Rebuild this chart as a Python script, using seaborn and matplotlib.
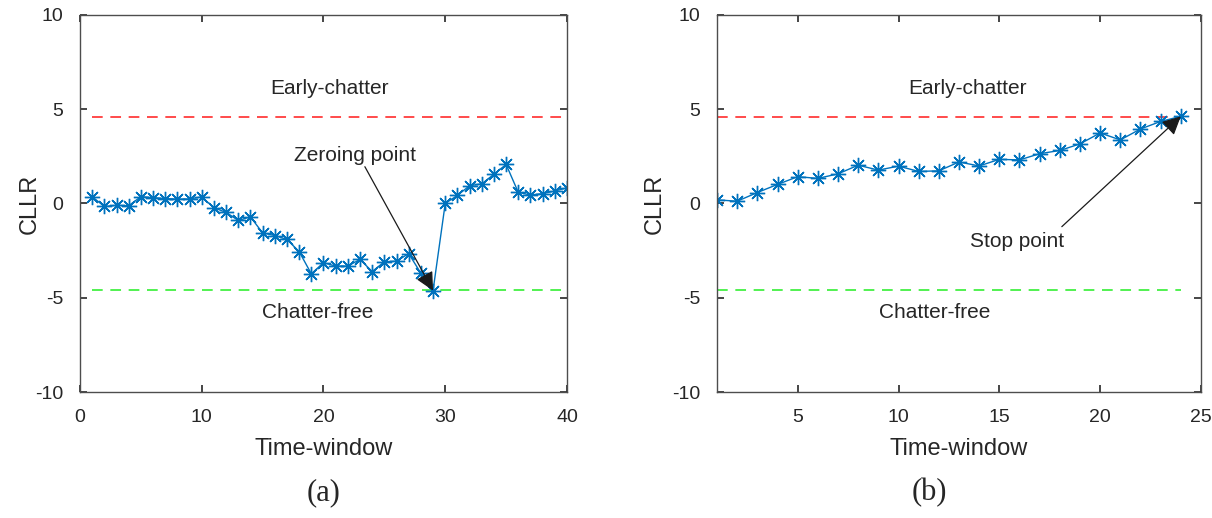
import numpy as np
import pandas as pd
import matplotlib
matplotlib.use("Agg")
import matplotlib.pyplot as plt
import seaborn as sns

# ---- data ----
windows_a = list(range(1, 41))
cllr_a = [0.36, -0.16, -0.10, -0.12, 0.36, 0.31, 0.26, 0.23, 0.24, 0.35,
          -0.23, -0.47, -0.90, -0.71, -1.56, -1.70, -1.91, -2.55, -3.73, -3.14,
          -3.32, -3.32, -2.97, -3.61, -3.09, -3.06, -2.66, -3.70, -4.62, 0.00,
          0.43, 0.94, 1.04, 1.55, 2.07, 0.59, 0.45, 0.52, 0.66, 0.83]

windows_b = list(range(1, 25))
cllr_b = [0.19, 0.12, 0.58, 1.01, 1.42, 1.33, 1.57, 2.03, 1.77, 1.98,
          1.70, 1.73, 2.20, 1.99, 2.34, 2.31, 2.64, 2.81, 3.16, 3.74,
          3.37, 3.95, 4.35, 4.62]

upper_threshold = 4.6
lower_threshold = -4.6

ticks_y = [-10, -5, 0, 5, 10]
ticks_x_a = [0, 10, 20, 30, 40]
ticks_x_b = [5, 10, 15, 20, 25]

sns.set_theme(style="ticks")
plt.rcParams['font.family'] = ['Liberation Sans', 'DejaVu Sans']

fig = plt.figure(figsize=(12.12, 5.18), dpi=100)
ax_a = fig.add_axes([0.0660, 0.2432, 0.4018, 0.7280])
ax_b = fig.add_axes([0.5916, 0.2432, 0.3993, 0.7280])

line_color = '#0072BD'
axis_gray = '#262626'
asterisk = (8, 2, 0)

def style_axes(ax, xlim, xticks, ylabel_x):
    ax.set_xlim(*xlim)
    ax.set_ylim(-10, 10)
    ax.set_xticks(xticks)
    ax.set_yticks(ticks_y)
    ax.set_xticklabels([str(t) for t in xticks])
    ax.set_yticklabels([str(t) for t in ticks_y])
    ax.tick_params(direction='in', length=5, width=1.2, top=True, right=True,
                   labelsize=14, colors=axis_gray, pad=12)
    for s in ax.spines.values():
        s.set_visible(True)
        s.set_color('#4d4d4d')
        s.set_linewidth(1.0)
    ax.set_xlabel('Time-window', fontsize=17, color=axis_gray, labelpad=9)
    ax.set_ylabel('CLLR', fontsize=17, color=axis_gray)
    ax.yaxis.set_label_coords(ylabel_x, 0.5)
    ax.grid(False)

dash = (7, 5)
red = '#FF1A1A'
green = '#22EE22'

# ---- panel (a) ----
df_a = pd.DataFrame({'w': windows_a, 'c': cllr_a})
ax_a.plot([windows_a[0], windows_a[-1]], [upper_threshold, upper_threshold],
          color=red, lw=1.1, dashes=dash)
ax_a.plot([windows_a[0], windows_a[-1]], [lower_threshold, lower_threshold],
          color=green, lw=1.1, dashes=dash)
sns.lineplot(data=df_a, x='w', y='c', ax=ax_a, color=line_color, lw=1.0,
             marker=asterisk, markersize=11, markeredgecolor=line_color,
             markeredgewidth=1.0)
style_axes(ax_a, (0, 40), ticks_x_a, -0.080)
ax_a.text(20.5, 6.1, 'Early-chatter', fontsize=15, ha='center', va='center')
ax_a.text(19.5, -5.8, 'Chatter-free', fontsize=15, ha='center', va='center')
ax_a.text(22.6, 2.57, 'Zeroing point', fontsize=15, ha='center', va='center')
ax_a.annotate('', xy=(windows_a[28], cllr_a[28]), xytext=(23.4, 1.95),
              arrowprops=dict(arrowstyle='-|>', color='k', lw=0.9,
                              mutation_scale=28, shrinkA=0, shrinkB=0))
fig.text(324 / 1212, 1 - 493 / 518, '(a)', fontsize=22,
         family=['Liberation Serif', 'DejaVu Serif'], ha='center', va='center')

# ---- panel (b) ----
df_b = pd.DataFrame({'w': windows_b, 'c': cllr_b})
ax_b.plot([windows_b[0], windows_b[-1]], [upper_threshold, upper_threshold],
          color=red, lw=1.1, dashes=dash)
ax_b.plot([windows_b[0], windows_b[-1]], [lower_threshold, lower_threshold],
          color=green, lw=1.1, dashes=dash)
sns.lineplot(data=df_b, x='w', y='c', ax=ax_b, color=line_color, lw=1.0,
             marker=asterisk, markersize=11, markeredgecolor=line_color,
             markeredgewidth=1.0)
style_axes(ax_b, (1, 25), ticks_x_b, -0.105)
ax_b.text(13.4, 6.1, 'Early-chatter', fontsize=15, ha='center', va='center')
ax_b.text(11.8, -5.8, 'Chatter-free', fontsize=15, ha='center', va='center')
ax_b.annotate('', xy=(windows_b[-1], cllr_b[-1]), xytext=(18.1, -1.23),
              arrowprops=dict(arrowstyle='-|>', color='k', lw=0.9,
                              mutation_scale=28, shrinkA=0, shrinkB=0))
ax_b.text(15.9, -2.04, 'Stop point', fontsize=15, ha='center', va='center')
fig.text(929 / 1212, 1 - 493 / 518, '(b)', fontsize=22,
         family=['Liberation Serif', 'DejaVu Serif'], ha='center', va='center')

fig.savefig('out.png', dpi=100)
